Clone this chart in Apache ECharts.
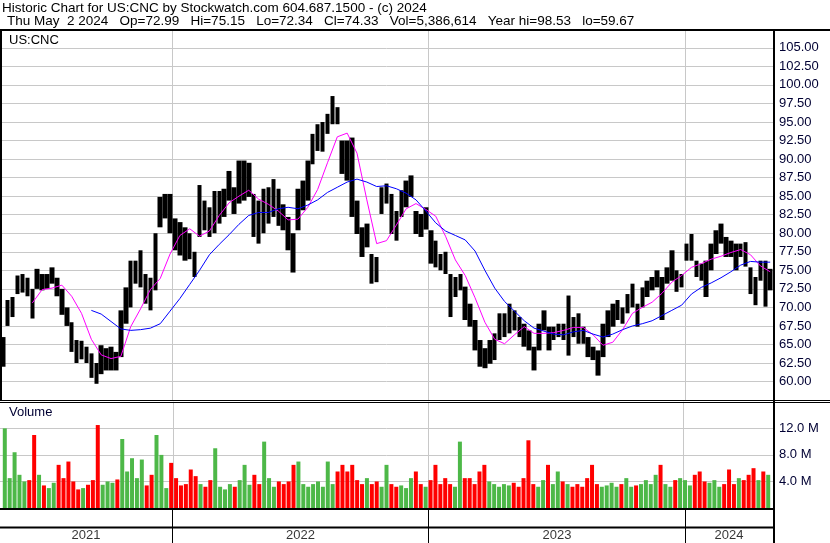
<!DOCTYPE html>
<html><head><meta charset="utf-8">
<script src="https://cdn.jsdelivr.net/npm/echarts@6/dist/echarts.min.js"></script>
<style>html,body{margin:0;padding:0;background:#fff}#c{width:830px;height:543px}</style>
</head><body><div id="c"></div>
<script>
// ---------- data (weekly) ----------
const axisStart = '2021-05-01';
const axisEnd = '2024-05-05';
const yearBreaks = ['2022-01-01', '2023-01-01', '2024-01-01'];
const yearLabels = ['2021', '2022', '2023', '2024'];
const priceTicks = { min: 57.5, max: 107.5, step: 2.5 };
const volumeTicks = { min: 0, max: 16, step: 4 };

const weeklyLow = [62,67.5,68.7,71.8,72,71.5,68.5,72.5,72.3,72.5,73.2,71.5,69,67.5,64,62.5,63,62.5,60.5,59.7,61,61.5,61.5,61.5,63.3,67.8,70,73.2,72.7,70.5,69.6,72.3,80.8,82,80,77.7,77,76.3,76.5,74.1,79.5,80.4,79.5,80,81.3,82.2,84.4,82.6,84,84.4,84.9,79.5,78.6,80,81.3,82.2,81,80.4,77.7,74.7,80.4,83.1,84.4,89.3,91.1,91,93.4,94.7,94.7,88,87.1,82.2,79.9,76.8,78.1,73.2,73.4,82.6,84,79.9,79,82.2,83.5,84.9,79.9,79.5,80.5,75.9,75.4,75,74.5,68.7,71.4,72.3,68.3,67.4,64.2,62,61.8,62.4,62.9,65.6,66,66.5,66.9,66,64.7,64.2,61.5,64.2,66.9,64.2,65.6,66,65.6,63.5,66,65.1,65.1,63.3,62.9,60.8,63.3,66,67.4,68.3,67.8,69.2,70,67.4,70,71.4,72.3,72.7,68.3,73.2,73.6,72.1,72.7,76.3,76.3,74.1,73.6,71.4,75,77.2,78.6,76.8,76.8,75,76.8,75.5,71.8,70.3,73.6,70.1,72.3];
const weeklyHigh = [66,71,71.4,74.3,74.5,74,72.5,75.2,74.5,74.5,75.4,74,72.5,70,68,65.6,65.5,64.7,63.8,62.5,64.9,64.5,64.7,64,69.6,72.7,76.3,76.3,77.7,74.5,74,80,84.9,85.3,85.3,82,81.5,80.8,80,77.5,86.5,84.4,83.5,85.7,85.7,86,88.4,86.2,89.8,89.8,89.5,85.3,84.4,86,86.2,87.3,86,83.9,82.2,80,86,87.1,89.8,93.4,94.7,95,96.1,98.5,97,92.5,92.5,92.9,84.4,80.8,81.3,77.2,76.8,86.2,86.7,85.3,83,85.8,87.1,87.8,83,82.6,83.5,80.4,79,77.2,77.5,74.5,74.1,74.5,72.8,70.5,68.3,65.6,64.5,65.6,66.5,69.2,69.2,70.5,69.6,68.7,67.8,66.9,64.7,67.8,69.6,67.4,67.4,67.8,67.8,71.6,68.7,69.2,67.4,66,64.7,64.2,67.8,69.6,70.5,71,70,71.8,73.2,70.5,72.7,73.6,74.1,75,74.1,75.4,77.7,75,74.5,78.6,79.9,76.3,75.9,76.3,78.6,80.4,81.3,79.5,79,78.6,78.6,78.8,75.4,74.1,76.3,76.3,75.2];
// volume in millions of shares
const weeklyVolume = [12,4.5,8.4,5,4,4.2,11,5,3.4,3,3.8,6.5,4.5,7,4,2.8,3,3.5,4.2,12.5,3.5,4,3.8,4.3,10.4,5.5,7.5,4.5,7.3,3.4,5,11,8,3,6.8,4.5,3.4,3.6,5.8,4.8,3.6,3.2,4.2,9,3.2,2.8,3.6,3.2,4.2,6.5,3.5,5,3.6,10,4.5,3.2,4,3.6,4,6.5,7,3.6,3.2,3.6,4,3.2,7,3.6,5.5,6.5,5.5,6.5,4.2,3.6,4.5,3.6,4,3.2,6.5,3.6,3.2,3.4,3,4.5,5.5,3.6,3.2,4.2,6.5,3.6,4.5,3.6,3.2,10,4.5,4.5,3.6,5.5,6.5,4,3.6,3.2,3.6,3.4,3.8,3.2,4.5,10.2,3.6,3.2,4.2,6.5,3.6,5.5,4,3.6,3.2,3.6,3.2,4.5,6.5,3.6,3.2,3.4,3.8,3.2,3.6,4.5,3.2,3.4,3.6,4.2,3.6,5,6.5,3.6,3.2,4.2,4.5,4.2,3.4,5,5.5,4,3.8,4.2,3.2,3.6,5.8,3.6,4.5,4.2,5,6,4.2,5.5,5];
// moving averages, read every second week
const fastAvgFirstWeek = 6;
const fastAvg = [70.6,72.4,72.6,73.0,71.5,69.2,65.7,63.6,63.1,63.4,67.4,69.8,72.4,73.9,77.2,79.7,80.6,79.6,80.3,82.4,84.1,85.0,85.8,84.6,83.9,83.0,81.8,81.9,83.5,85.9,89.5,93.0,93.5,90.8,84.5,78.6,79.0,81.1,83.3,84.0,83.2,82.3,79.6,76.4,74.3,71.3,68.0,65.7,65.1,66.3,67.4,66.5,66.5,66.6,66.9,67.3,67.3,66.3,64.9,65.3,67.0,69.2,70.0,70.7,71.9,73.4,74.3,75.4,75.9,76.5,76.9,77.4,77.8,77.1,75.6,74.8];
const slowAvgFirstWeek = 18;
const slowAvg = [69.6,69.1,68.1,67.1,66.9,67.0,67.2,67.8,69.5,71.2,73.1,75.0,77.1,78.5,79.8,81.2,82.4,82.8,82.8,83.3,83.5,83.3,83.8,84.5,85.5,86.2,86.9,87.3,86.9,86.3,86.4,86.0,85.4,84.5,83.0,81.4,80.3,79.7,79.1,77.6,75.0,72.6,70.8,69.5,68.2,67.2,66.8,66.4,66.3,66.7,66.9,66.4,66.0,66.4,67.0,67.5,67.8,68.2,68.9,69.6,70.3,71.8,72.7,73.3,74.0,74.8,75.7,76.2,76.1,76.1];

const headerLine1 = 'Historic Chart for US:CNC by Stockwatch.com 604.687.1500 - (c) 2024';
const headerLine2 = 'Thu May  2 2024   Op=72.99   Hi=75.15   Lo=72.34   Cl=74.33   Vol=5,386,614   Year hi=98.53   lo=59.67';
const symbolName = 'US:CNC';
const volumeTitle = 'Volume';

// ---------- build ----------
const parseDay = s => { const p = s.split('-').map(Number); return new Date(p[0], p[1] - 1, p[2]).getTime(); };
const weekDates = weeklyLow.map((_, k) => new Date(2021, 4, 5 + 7 * k).getTime());
const tMin = parseDay(axisStart), tMax = parseDay(axisEnd);

const candles = weekDates.map((t, k) => [t, weeklyLow[k], weeklyHigh[k], weeklyLow[k], weeklyHigh[k]]);
const mids = weeklyLow.map((l, k) => (l + weeklyHigh[k]) / 2);
const volData = weekDates.map((t, k) => ({
  value: [t, weeklyVolume[k]],
  itemStyle: { color: (k === 0 || mids[k] >= mids[k - 1]) ? '#4db848' : '#ff0000' }
}));
const fastData = fastAvg.map((v, i) => [weekDates[fastAvgFirstWeek + 2 * i], v]);
const slowData = slowAvg.map((v, i) => [weekDates[slowAvgFirstWeek + 2 * i], v]);

const yearStarts = yearLabels.map(y => parseDay(y + '-01-01'));
const yearCenters = yearLabels.map((y, i) => {
  const a = Math.max(yearStarts[i], tMin);
  const b = Math.min(i + 1 < yearStarts.length ? yearStarts[i + 1] : tMax, tMax);
  return [(a + b) / 2, 0.24, y];
});
const breakLines = yearBreaks.map(d => ({ xAxis: parseDay(d) }));

const FONT = '"Liberation Sans", Arial, sans-serif';
const LABEL = '#000033';
const GRIDC = '#c8c8c8';

const xBase = g => ({
  type: 'time', gridIndex: g, min: tMin, max: tMax,
  axisLine: { show: false }, axisTick: { show: false }, axisLabel: { show: false }, splitLine: { show: false }
});

const chart = echarts.init(document.getElementById('c'), null, { renderer: 'canvas' });
chart.setOption({
  animation: false,
  backgroundColor: '#fff',
  grid: [
    { left: 0, right: 57, top: 29.3, height: 370.8 },
    { left: 0, right: 57, top: 401.8, height: 106.2 },
    { left: 0, right: 57, top: 510, height: 33 }
  ],
  xAxis: [xBase(0), xBase(1), xBase(2)],
  yAxis: [
    {
      gridIndex: 0, type: 'value', position: 'right',
      min: priceTicks.min, max: priceTicks.max, interval: priceTicks.step,
      axisLine: { show: false }, axisTick: { show: false },
      axisLabel: { showMinLabel: false, showMaxLabel: false, margin: 6, color: LABEL, fontFamily: FONT, fontSize: 13,
        formatter: v => v.toFixed(2) },
      splitLine: { show: true, showMinLine: false, showMaxLine: false, lineStyle: { color: GRIDC, width: 1 } }
    },
    {
      gridIndex: 1, type: 'value', position: 'right',
      min: volumeTicks.min, max: volumeTicks.max, interval: volumeTicks.step,
      axisLine: { show: false }, axisTick: { show: false },
      axisLabel: { showMinLabel: false, showMaxLabel: false, margin: 6, color: LABEL, fontFamily: FONT, fontSize: 13,
        formatter: v => v.toFixed(1) + ' M' },
      splitLine: { show: true, showMinLine: false, showMaxLine: false, lineStyle: { color: GRIDC, width: 1 } }
    },
    { gridIndex: 2, type: 'value', min: 0, max: 1, show: false }
  ],
  series: [
    {
      type: 'candlestick', xAxisIndex: 0, yAxisIndex: 0, data: candles, barWidth: 5, z: 3,
      itemStyle: { color: '#000', color0: '#000', borderColor: '#000', borderColor0: '#000', borderWidth: 0 },
      markLine: { z: 1, silent: true, symbol: 'none', label: { show: false }, animation: false,
        lineStyle: { color: GRIDC, width: 1, type: 'solid' }, data: breakLines }
    },
    { type: 'line', xAxisIndex: 0, yAxisIndex: 0, data: fastData, showSymbol: false, z: 4,
      lineStyle: { color: '#ff00ff', width: 1 } },
    { type: 'line', xAxisIndex: 0, yAxisIndex: 0, data: slowData, showSymbol: false, z: 4,
      lineStyle: { color: '#0000ff', width: 1 } },
    {
      type: 'bar', xAxisIndex: 1, yAxisIndex: 1, data: volData, barWidth: 4, z: 3,
      markLine: { z: 1, silent: true, symbol: 'none', label: { show: false }, animation: false,
        lineStyle: { color: GRIDC, width: 1, type: 'solid' }, data: breakLines }
    },
    {
      type: 'scatter', xAxisIndex: 2, yAxisIndex: 2, data: yearCenters, symbolSize: 0,
      label: { show: true, position: 'inside', formatter: p => p.data[2], color: '#000', fontFamily: FONT, fontSize: 13 },
      markLine: { silent: true, symbol: 'none', label: { show: false }, animation: false,
        lineStyle: { color: '#000', width: 1, type: 'solid' }, data: breakLines }
    }
  ],
  graphic: [
    { type: 'text', x: 2, y: 1, z: 100, style: { text: headerLine1, font: '13.5px ' + FONT, fill: '#000' } },
    { type: 'text', x: 7, y: 14, z: 100, style: { text: headerLine2, font: '13.5px ' + FONT, fill: '#000' } },
    { type: 'text', x: 9, y: 34, z: 100, style: { text: symbolName, font: '13px ' + FONT, fill: '#000' } },
    { type: 'text', x: 9, y: 406, z: 100, style: { text: volumeTitle, font: '13px ' + FONT, fill: LABEL } },
    { type: 'rect', z: 100, shape: { x: 0, y: 29, width: 830, height: 2 }, style: { fill: '#000' } },
    { type: 'rect', z: 100, shape: { x: 0, y: 29, width: 2, height: 371 }, style: { fill: '#000' } },
    { type: 'rect', z: 100, shape: { x: 0, y: 400, width: 830, height: 1 }, style: { fill: '#000' } },
    { type: 'rect', z: 100, shape: { x: 0, y: 402, width: 830, height: 1 }, style: { fill: '#000' } },
    { type: 'rect', z: 100, shape: { x: 0, y: 508, width: 773, height: 2 }, style: { fill: '#000' } },
    { type: 'rect', z: 100, shape: { x: 0, y: 526.5, width: 773, height: 2 }, style: { fill: '#000' } },
    { type: 'rect', z: 100, shape: { x: 773, y: 29, width: 2, height: 514 }, style: { fill: '#000' } }
  ]
});
</script></body></html>
